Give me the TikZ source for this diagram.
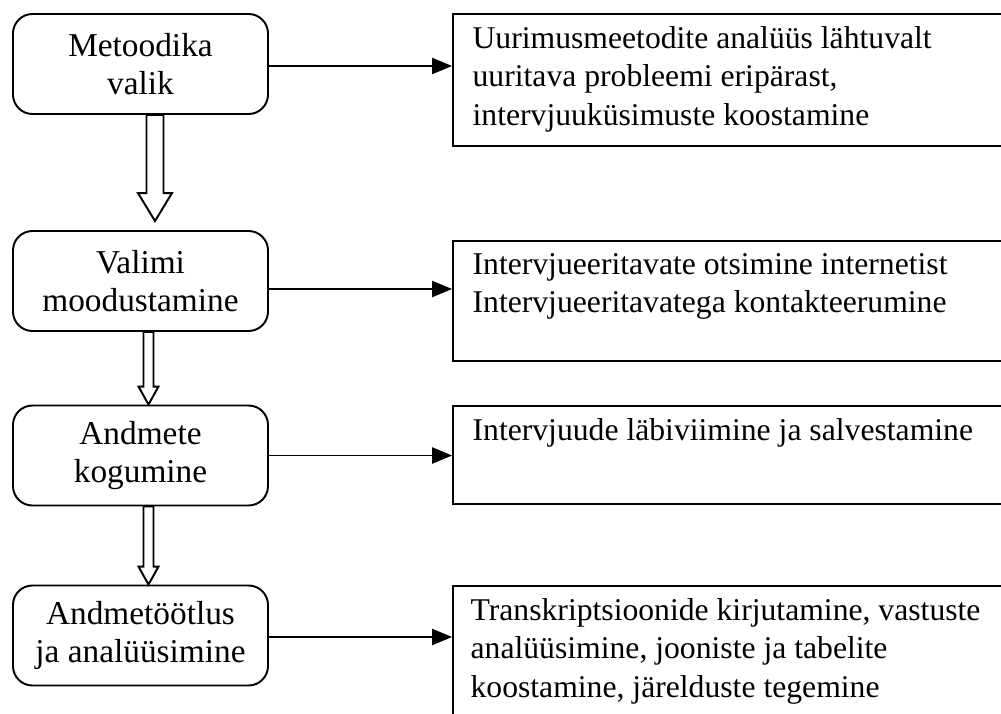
\documentclass[tikz,border=0pt]{standalone}
\usepackage{fontspec}
\setmainfont{Liberation Serif}
\usetikzlibrary{arrows.meta,calc}

% hollow block arrow: start, tip, shaft half width, head half width, head length
\newcommand{\hollowarrow}[5]{%
  \draw[hollow] ($(#1)+(-#3,0)$) -- ($(#2)+(-#3,-#5)$) -- ($(#2)+(-#4,-#5)$) -- (#2)
    -- ($(#2)+(#4,-#5)$) -- ($(#2)+(#3,-#5)$) -- ($(#1)+(#3,0)$) -- cycle;}

\begin{document}
\begin{tikzpicture}[x=0.36pt, y=-0.36pt,
    font=\fontsize{12pt}{13.8pt}\selectfont,
    lbox/.style={draw, line width=0.7pt, rounded corners=7pt, minimum width=91.8pt,
      minimum height=36pt, align=center, inner sep=0pt},
    rbox/.style={draw, line width=0.7pt, minimum width=200.5pt, inner sep=0pt},
    rtext/.style={anchor=north west, align=left, inner sep=0pt,
      font=\fontsize{11.4pt}{13.8pt}\selectfont},
    link/.style={line width=0.7pt, -{Triangle[length=7.2pt, width=5.8pt]}},
    hollow/.style={draw, line width=0.7pt, fill=white, line join=miter}]
  \useasboundingbox (0,0) rectangle (1001,713);
  \clip (0,0) rectangle (1001,713);

  % steps
  \node[lbox] (metoodika) at (140.5,64) {Metoodika\\valik};
  \node[lbox] (valim) at (140.5,281) {Valimi\\moodustamine};
  \node[lbox] (kogumine) at (140.5,455.5) {Andmete\\kogumine};
  \node[lbox] (tootlus) at (140.5,635.5) {Andmetöötlus\\ja analüüsimine};

  % descriptions
  \node[rbox, minimum height=47.5pt] (analuus) at (731.5,80) {};
  \node[rbox, minimum height=43.2pt] (otsing) at (731.5,301) {};
  \node[rbox, minimum height=35.3pt] (intervjuu) at (731.5,455) {};
  \node[rbox, minimum height=55.4pt] (transkript) at (731.5,663) {};

  \node[rtext] (analuus-t) at ($(analuus.north west)+(20,13)$)
    {Uurimusmeetodite analüüs lähtuvalt\\uuritava probleemi eripärast,\\intervjuuküsimuste koostamine};
  \node[rtext] (otsing-t) at ($(otsing.north west)+(20,13)$)
    {Intervjueeritavate otsimine internetist\\Intervjueeritavatega kontakteerumine};
  \node[rtext] (intervjuu-t) at ($(intervjuu.north west)+(20,13)$)
    {Intervjuude läbiviimine ja salvestamine};
  \node[rtext] (transkript-t) at ($(transkript.north west)+(18,13)$)
    {Transkriptsioonide kirjutamine, vastuste\\analüüsimine, jooniste ja tabelite\\koostamine, järelduste tegemine};

  % links
  \draw[link] ($(metoodika.east)+(0,2)$) -- ($(metoodika.east -| analuus.west)+(0,2)$);
  \draw[link] ($(valim.east)+(0,8)$) -- ($(valim.east -| otsing.west)+(0,8)$);
  \draw[link] (kogumine.east) -- (kogumine.east -| intervjuu.west);
  \draw[link] ($(tootlus.east)+(0,1.5)$) -- ($(tootlus.east -| transkript.west)+(0,1.5)$);

  % flow
  \coordinate (a1s) at ($(metoodika.south)+(14.5,0)$);
  \coordinate (a1e) at ($(valim.north)+(14.5,-9)$);
  \coordinate (a2s) at ($(valim.south)+(8,0)$);
  \coordinate (a2e) at ($(kogumine.north)+(8,0)$);
  \coordinate (a3s) at ($(kogumine.south)+(8,0)$);
  \coordinate (a3e) at ($(tootlus.north)+(8,0)$);
  \hollowarrow{a1s}{a1e}{8.5}{17}{28}
  \hollowarrow{a2s}{a2e}{5}{10}{18}
  \hollowarrow{a3s}{a3e}{5}{10}{18}
\end{tikzpicture}
\end{document}
